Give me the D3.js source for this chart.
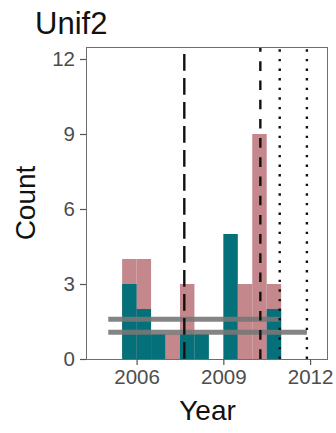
<!DOCTYPE html>
<html>
<head>
<meta charset="utf-8">
<script src="https://cdn.jsdelivr.net/npm/d3@7/dist/d3.min.js"></script>
<style>
  html, body { margin: 0; padding: 0; background: #fff; }
  svg { display: block; font-family: "Liberation Sans", Arial, Helvetica, sans-serif; }
</style>
</head>
<body>
<svg id="chart" width="336" height="433"></svg>
<script>
// Half-year bins: left edge of each bin (years)
const binStarts = [2005.5, 2006, 2006.5, 2007, 2007.5, 2008, 2008.5, 2009, 2009.5, 2010, 2010.5];
const binWidth = 0.5;
// Counts per bin for the two groups (drawn overlaid, teal in front)
const pinkCounts = [4, 4, 0, 1, 3, 0, 0, 0, 3, 9, 3];
const tealCounts = [3, 2, 1, 0, 1, 1, 0, 5, 0, 0, 2];
// Reference years marked by vertical lines
const dashedYears = [2007.65, 2010.28];
const dottedYears = [2010.95, 2011.89];
// Horizontal reference levels, each running from segStart to the matching dotted year
const levels = [1.59, 1.07];
const segStart = 2005.02;
// Axis ticks
const xTicks = [2006, 2009, 2012];
const yTicks = [0, 3, 6, 9, 12];

const svg = d3.select("#chart");
const pLeft = 86, pRight = 328, pTop = 47, pBottom = 359;

const x = d3.scaleLinear().domain([2004.25, 2012.62]).range([pLeft, pRight]);
const y = d3.scaleLinear().domain([0, 12.48]).range([pBottom, pTop]);

const teal = "#03707a", pink = "#c4878c";

const bins = binStarts.map((s, i) => ({ s, pink: pinkCounts[i], teal: tealCounts[i] }));

const g = svg.append("g");

// pink bars (behind)
g.selectAll("rect.pink").data(bins.filter(d => d.pink > 0)).join("rect")
  .attr("class", "pink")
  .attr("x", d => x(d.s)).attr("width", d => x(d.s + binWidth) - x(d.s))
  .attr("y", d => y(d.pink)).attr("height", d => y(0) - y(d.pink))
  .attr("fill", pink);

// teal bars (front)
g.selectAll("rect.teal").data(bins.filter(d => d.teal > 0)).join("rect")
  .attr("class", "teal")
  .attr("x", d => x(d.s)).attr("width", d => x(d.s + binWidth) - x(d.s))
  .attr("y", d => y(d.teal)).attr("height", d => y(0) - y(d.teal))
  .attr("fill", teal);

// horizontal reference segments
g.selectAll("line.level").data(levels).join("line")
  .attr("class", "level")
  .attr("x1", x(segStart)).attr("x2", (d, i) => x(dottedYears[i]))
  .attr("y1", d => y(d)).attr("y2", d => y(d))
  .attr("stroke", "#777").attr("stroke-opacity", 0.9).attr("stroke-width", 5);

// vertical reference lines
const lw = 2.4;
const dashStyles = [
  { arr: [7 * lw, 3 * lw], off: 7 * lw + 0.2 },
  { arr: [4 * lw, 4 * lw], off: 4 * lw - 4.7 }
];
g.selectAll("line.dash").data(dashedYears).join("line")
  .attr("class", "dash")
  .attr("x1", d => x(d)).attr("x2", d => x(d))
  .attr("y1", pTop).attr("y2", pBottom)
  .attr("stroke", "#111").attr("stroke-width", lw)
  .attr("stroke-dasharray", (d, i) => dashStyles[i].arr.join(","))
  .attr("stroke-dashoffset", (d, i) => dashStyles[i].off);

g.selectAll("line.dot").data(dottedYears).join("line")
  .attr("class", "dot")
  .attr("x1", d => x(d)).attr("x2", d => x(d))
  .attr("y1", pTop).attr("y2", pBottom)
  .attr("stroke", "#111").attr("stroke-width", lw)
  .attr("stroke-dasharray", [lw, 3 * lw].join(","))
  .attr("stroke-dashoffset", 4 * lw - 2.3);

// panel border
svg.append("rect")
  .attr("x", pLeft + 0.5).attr("y", pTop + 0.5)
  .attr("width", pRight - pLeft - 1).attr("height", pBottom - pTop)
  .attr("fill", "none").attr("stroke", "#6e6e6e").attr("stroke-width", 1);

// axes
const xAxis = svg.append("g").attr("transform", `translate(0,${pBottom})`)
  .call(d3.axisBottom(x).tickValues(xTicks).tickFormat(d3.format("d")).tickSize(6).tickPadding(4));
const yAxis = svg.append("g").attr("transform", `translate(${pLeft},0)`)
  .call(d3.axisLeft(y).tickValues(yTicks).tickSize(6).tickPadding(5));
[xAxis, yAxis].forEach(a => {
  a.select(".domain").remove();
  a.selectAll(".tick line").attr("stroke", "#555").attr("stroke-width", 1.2);
  a.selectAll(".tick text").attr("fill", "#4d4d4d").style("font-size", "20.5px")
    .style("font-family", "'Liberation Sans', Arial, sans-serif");
});

// titles
svg.append("text").attr("x", 35).attr("y", 34)
  .style("font-size", "31px").attr("fill", "#111").text("Unif2");
svg.append("text").attr("x", 207.5).attr("y", 420).attr("text-anchor", "middle")
  .style("font-size", "28px").attr("fill", "#111").text("Year");
svg.append("text").attr("transform", "translate(35,203) rotate(-90)").attr("text-anchor", "middle")
  .style("font-size", "28px").attr("fill", "#111").text("Count");
</script>
</body>
</html>
